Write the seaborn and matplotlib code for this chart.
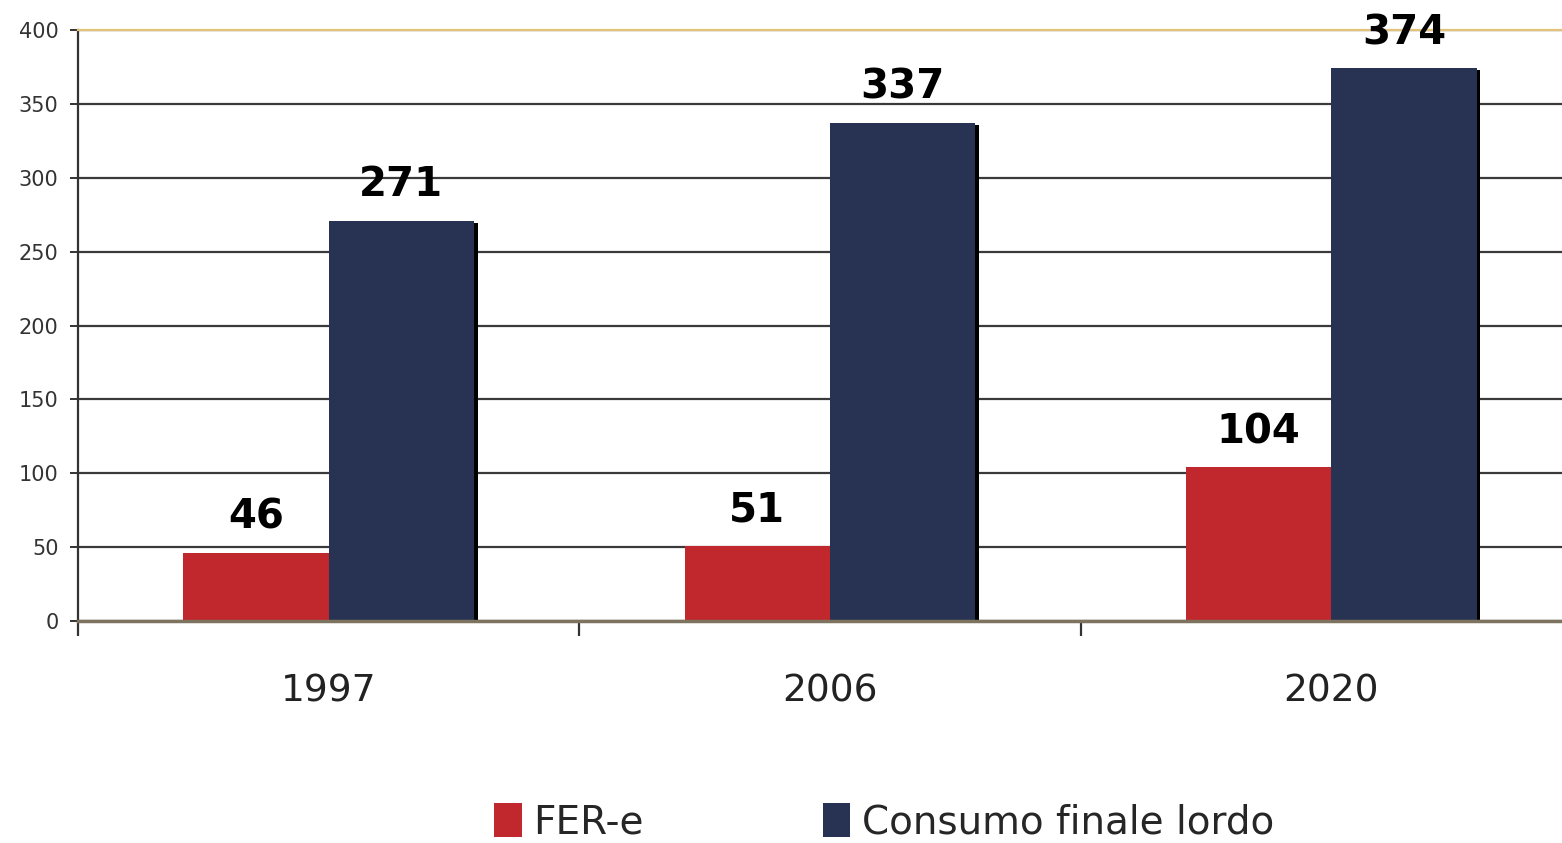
import matplotlib
matplotlib.use("Agg")
import matplotlib.pyplot as plt
import matplotlib.patheffects as pe
from matplotlib.patches import Patch
import pandas as pd
import seaborn as sns

# Chart data
YEARS = ['1997', '2006', '2020']
SERIES = ['FER-e', 'Consumo finale lordo']
FER_E = [46, 51, 104]
CONSUMO = [271, 337, 374]
COLORS = ['#C0282D', '#283354']
Y_TICKS = [0, 50, 100, 150, 200, 250, 300, 350, 400]

df = pd.DataFrame({
    'anno': YEARS * 2,
    'serie': [SERIES[0]] * len(YEARS) + [SERIES[1]] * len(YEARS),
    'valore': FER_E + CONSUMO,
})

sns.set_theme(style='white')
plt.rcParams['font.family'] = ['DejaVu Sans']

fig = plt.figure(figsize=(15.62, 8.43), dpi=100)
ax = fig.add_axes([78 / 1562, 1 - 621 / 843, 1 - 78 / 1562, (621 - 30) / 843])

sns.barplot(data=df, x='anno', y='valore', hue='serie', order=YEARS,
            hue_order=SERIES, palette=COLORS, width=0.58, saturation=1,
            legend=False, ax=ax)

# little drop shadow like the original
for patch in ax.patches:
    patch.set_linewidth(0)
    patch.set_path_effects([pe.SimplePatchShadow(offset=(2.5, -1.5), shadow_rgbFace='black', alpha=1),
                            pe.Normal()])

for cont in ax.containers:
    ax.bar_label(cont, padding=11, fontsize=29, fontweight='bold', color='black')

ax.set_ylim(0, 400)
ax.set_xlim(-0.5, 2.46)
ax.set_yticks(Y_TICKS)
ax.set_xlabel('')
ax.set_ylabel('')

# grid
ax.set_axisbelow(True)
ax.yaxis.grid(True, color='#3a3a3a', linewidth=1.6)
ax.xaxis.grid(False)

ax.spines['right'].set_visible(False)
ax.spines['top'].set_color('#E3C27A')
ax.spines['top'].set_linewidth(1.6)
ax.spines['bottom'].set_color('#7E735F')
ax.spines['bottom'].set_linewidth(2.5)
ax.spines['left'].set_color('#333333')
ax.spines['left'].set_linewidth(1.6)

ax.tick_params(axis='y', which='major', left=True, length=6, width=1.4,
               color='#333333', pad=8, labelsize=15, labelcolor='#333333')
ax.tick_params(axis='x', which='major', bottom=False, length=0, pad=38,
               labelsize=27, labelcolor='#222222')
ax.set_xticks([-0.5, 0.5, 1.5], minor=True)
ax.tick_params(axis='x', which='minor', bottom=True, length=11, width=1.6,
               color='#333333')

handles = [Patch(facecolor=c, edgecolor='none') for c in COLORS]
fig.legend(handles, SERIES, loc='center', bbox_to_anchor=(0.566, 0.025),
           ncol=2, frameon=False, fontsize=28, handlelength=0.7,
           handleheight=1.0, handletextpad=0.3, columnspacing=4.6,
           borderaxespad=0)

fig.savefig('out.png', dpi=100, facecolor='white')
